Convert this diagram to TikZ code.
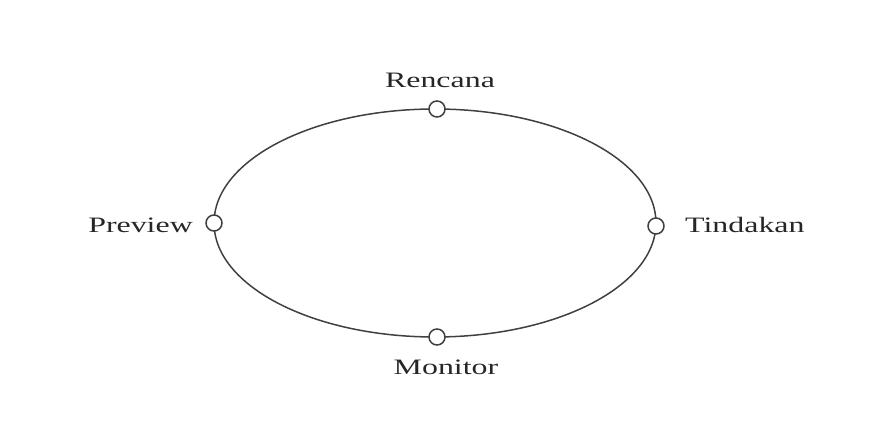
\documentclass[tikz,border=0pt]{standalone}
\usepackage{fontspec}
\setmainfont{Liberation Serif}
\usepackage{tikz}
\usetikzlibrary{positioning}

\newcommand{\wide}[1]{\scalebox{1.45}[1]{#1}}

\begin{document}
\begin{tikzpicture}[x=1pt,y=1pt, font=\fontsize{22}{26}\selectfont,
    ring/.style={draw=black!75, line width=1.5pt},
    dot/.style={circle, draw=black!75, line width=1.5pt, fill=white, minimum size=16pt, inner sep=0pt},
    lbl/.style={text=black!85, inner sep=0pt}]
  \useasboundingbox (0,0) rectangle (872,428);
  % Cycle
  \draw[ring] (435,205) ellipse [x radius=221, y radius=114];
  \node[dot] (rencana) at (437,319) {};
  \node[dot] (tindakan) at (656,202) {};
  \node[dot] (monitor) at (437,91) {};
  \node[dot] (preview) at (214,205) {};

  \node[lbl, anchor=base] (lrencana) at (440,340) {\wide{Rencana}};
  \node[lbl, anchor=base west] (ltindakan) at (685,195) {\wide{Tindakan}};
  \node[lbl, anchor=base] (lmonitor) at (446,53) {\wide{Monitor}};
  \node[lbl, anchor=base east] (lpreview) at (193,195) {\wide{Preview}};
\end{tikzpicture}
\end{document}
